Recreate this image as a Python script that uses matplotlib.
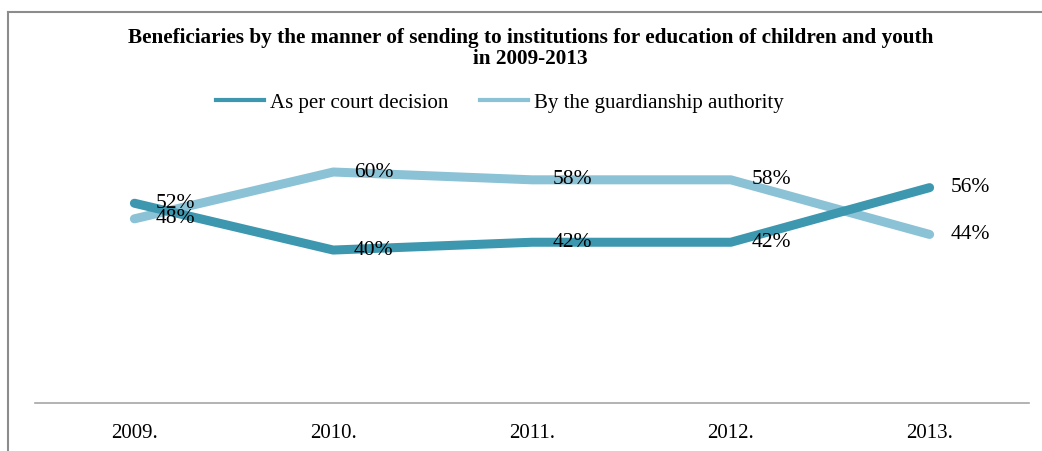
import matplotlib.pyplot as plt
from matplotlib.lines import Line2D

# Share of beneficiaries by the manner of sending (per year)
years = ['2009.', '2010.', '2011.', '2012.', '2013.']
court = [0.52, 0.40, 0.42, 0.42, 0.56]
guardianship = [0.48, 0.60, 0.58, 0.58, 0.44]
labels = ['As per court decision', 'By the guardianship authority']

dark = '#3c97af'
light = '#8bc2d5'

plt.rcParams['font.family'] = ['Liberation Serif', 'DejaVu Serif']

fig = plt.figure(figsize=(10.42, 4.51), dpi=100)
ax = fig.add_axes([35 / 1042, 48 / 451, 994 / 1042, 270 / 451])

x = range(len(years))
ax.plot(x, guardianship, color=light, lw=6.5, solid_capstyle='round', solid_joinstyle='round', zorder=2)
ax.plot(x, court, color=dark, lw=6.5, solid_capstyle='round', solid_joinstyle='round', zorder=3)

# value labels to the right of each point
for series in (court, guardianship):
    for i, v in enumerate(series):
        ax.annotate(f'{v * 100:.0f}%', (i, v), xytext=(15, 0), textcoords='offset points',
                    ha='left', va='center', fontsize=15.5, zorder=4)

ax.set_xlim(-0.5, len(years) - 0.5)
ax.set_ylim(0.008, 0.7)
ax.set_xticks(list(x))
ax.set_xticklabels(years, fontsize=15)
ax.tick_params(axis='x', length=0, pad=15)
ax.set_yticks([])
for s in ['top', 'right', 'left']:
    ax.spines[s].set_visible(False)
ax.spines['bottom'].set_color('#a6a6a6')
ax.spines['bottom'].set_linewidth(1.2)

fig.text(0.509, 0.893, 'Beneficiaries by the manner of sending to institutions for education of children and youth\nin 2009-2013',
         ha='center', va='center', fontsize=15.3, fontweight='bold', linespacing=1.08)

handles = [Line2D([], [], color=dark, lw=3), Line2D([], [], color=light, lw=3)]
fig.legend(handles, labels, loc='center', bbox_to_anchor=(0.48, 0.772), ncol=2, frameon=False,
           fontsize=15, handlelength=2.3, handletextpad=0.3, columnspacing=1.5)

# outer frame: top and left edges
fig.add_artist(Line2D([8 / 1042, 1], [1 - 12 / 451, 1 - 12 / 451], transform=fig.transFigure, color='#8c8c8c', lw=1.5))
fig.add_artist(Line2D([8 / 1042, 8 / 1042], [0, 1 - 12 / 451], transform=fig.transFigure, color='#8c8c8c', lw=1.5))

fig.savefig('out.png', dpi=100)
